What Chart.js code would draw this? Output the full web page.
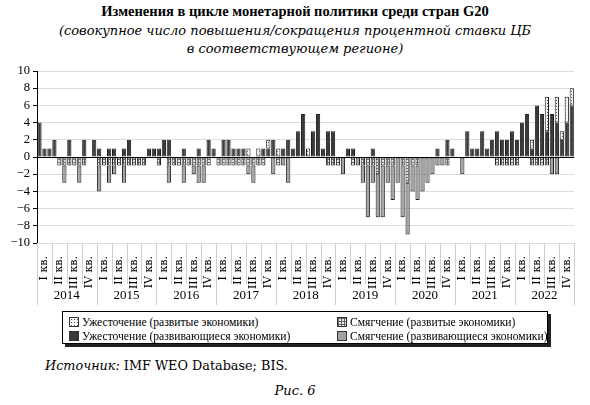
<!DOCTYPE html>
<html>
<head>
  <meta charset="UTF-8" />
  <title>Изменения в цикле монетарной политики среди стран G20</title>
  <script src="https://cdn.jsdelivr.net/npm/chart.js"></script>
  <style>
    body {
      margin: 0; width: 590px; height: 405px;
      background: #fff; color: #000;
      position: relative; overflow: hidden;
      font-family: 'DejaVu Serif', serif;
    }
    .title {
      position: absolute; left: 0; width: 590px; top: 3px;
      text-align: center;
      font: bold 14.5px 'Liberation Serif', serif;
    }
    .subtitle {
      position: absolute; left: 0; width: 590px; top: 22px;
      text-align: center; font-style: italic;
      font-size: 13px; line-height: 18px;
    }
    .chart-box {
      position: absolute; left: 0; top: 60px;
      width: 590px; height: 246px;
    }
    .legend {
      position: absolute; left: 62px; top: 311px;
      width: 486px; height: 33px;
      border: 1px solid #000;
      box-shadow: 3px 3px 0 #222;
      background: #fff;
      display: grid;
      grid-template-columns: 268px 1fr;
      font: 11.6px 'Liberation Serif', serif;
      padding: 3px 0 0 6px;
      box-sizing: border-box;
    }
    .legend div { display: flex; align-items: center; height: 14px; white-space: nowrap; }
    .legend canvas { margin-right: 3px; border: 1px solid #333; }
    .source {
      position: absolute; left: 45px; top: 358px;
      font-size: 12.8px;
    }
    .fig {
      position: absolute; left: 0; width: 590px; top: 383px;
      text-align: center; font-style: italic; font-size: 13px;
    }
  </style>
</head>
<body>
  <div class="title">Изменения в цикле монетарной политики среди стран G20</div>
  <div class="subtitle">(совокупное число повышения/сокращения процентной ставки ЦБ<br>в соответствующем регионе)</div>
  <div class="chart-box"><canvas id="policyChart"></canvas></div>
  <div class="legend" id="legend"></div>
  <div class="source"><i>Источник:</i> IMF WEO Database; BIS.</div>
  <div class="fig">Рис. 6</div>
  <script>
    const years = ['2014', '2015', '2016', '2017', '2018', '2019', '2020', '2021', '2022'];
    const quarterLabels = ['I кв.', 'II кв.', 'III кв.', 'IV кв.'];
    const yTicks = [-10, -8, -6, -4, -2, 0, 2, 4, 6, 8, 10];

    // monthly counts, one row per year (Jan..Dec)
    const tightEmerging = [
      4, 1, 1, 2, 0, 0, 2, 0, 0, 2, 0, 2,
      1, 0, 1, 1, 0, 1, 2, 0, 0, 0, 1, 1,
      1, 2, 2, 0, 0, 1, 0, 0, 1, 0, 2, 1,
      0, 2, 2, 1, 1, 1, 0, 0, 0, 1, 1, 2,
      0, 1, 2, 1, 3, 5, 0, 3, 5, 1, 3, 3,
      0, 0, 1, 1, 0, 0, 0, 1, 0, 0, 0, 0,
      0, 0, 0, 0, 0, 0, 0, 0, 1, 0, 2, 1,
      0, 0, 3, 1, 1, 3, 1, 2, 3, 2, 2, 3,
      2, 4, 5, 1, 6, 5, 3, 5, 4, 2, 4, 6
    ];
    const tightDeveloped = [
      0, 0, 0, 0, 0, 0, 0, 0, 0, 0, 0, 0,
      0, 0, 0, 0, 0, 0, 0, 0, 0, 0, 0, 0,
      0, 0, 0, 0, 0, 0, 0, 0, 0, 0, 0, 0,
      0, 0, 0, 0, 0, 0, 1, 0, 1, 0, 1, 0,
      1, 0, 0, 0, 0, 0, 1, 0, 0, 0, 0, 0,
      0, 0, 0, 0, 0, 0, 0, 0, 0, 0, 0, 0,
      0, 0, 0, 0, 0, 0, 0, 0, 0, 0, 0, 0,
      0, 0, 0, 0, 0, 0, 0, 0, 0, 0, 0, 0,
      0, 0, 0, 1, 0, 0, 4, 0, 3, 1, 3, 2
    ];
    const easeDeveloped = [
      0, 0, 0, 0, -1, -1, -1, -1, -1, -1, 0, 0,
      -1, -1, -1, -1, -1, -1, -1, -1, -1, -1, 0, 0,
      -1, 0, -1, -1, -1, -1, -1, -1, -1, -1, -1, 0,
      -1, -1, -1, -1, -1, -1, -1, -1, -1, -1, 0, 0,
      -1, 0, 0, 0, 0, 0, 0, 0, 0, 0, -1, -1,
      -1, 0, 0, -1, 0, -1, -1, -1, -2, -1, -1, -1,
      0, -1, -3, -1, -1, 0, 0, 0, 0, 0, -1, 0,
      0, 0, 0, 0, 0, 0, 0, 0, -1, -1, -1, -1,
      -1, 0, 0, -1, -1, -1, -1, 0, 0, 0, 0, 0
    ];
    const easeEmerging = [
      0, 0, 0, 0, 0, -2, 0, 0, -2, 0, 0, 0,
      -3, 0, -2, -1, 0, -2, 0, 0, 0, 0, 0, 0,
      0, 0, -2, 0, 0, -2, 0, -1, -2, -2, 0, 0,
      0, 0, 0, 0, 0, 0, -1, -2, 0, 0, 0, -2,
      0, -1, -3, 0, 0, 0, 0, 0, 0, 0, 0, 0,
      0, -2, 0, 0, -1, -2, -6, -2, -5, -6, -2, -4,
      -3, -6, -6, -3, -4, -4, -3, -2, -1, -1, 0, 0,
      0, -2, 0, 0, 0, 0, 0, 0, 0, 0, 0, 0,
      0, 0, 0, 0, 0, 0, 0, -2, -2, 0, 0, 0
    ];

    const categories = [];
    years.forEach(y => { for (let m = 1; m <= 12; m++) categories.push(y + '-' + m); });

    // fill patterns for the "developed" series
    function makePattern(draw) {
      const c = document.createElement('canvas');
      c.width = 3; c.height = 3;
      const g = c.getContext('2d');
      draw(g);
      return g.createPattern(c, 'repeat');
    }
    const dotted = makePattern(g => {
      g.fillStyle = '#f4f4f4'; g.fillRect(0, 0, 3, 3);
      g.fillStyle = '#555'; g.fillRect(1, 1, 1, 1);
    });
    const checked = makePattern(g => {
      g.fillStyle = '#e6e6e6'; g.fillRect(0, 0, 3, 3);
      g.fillStyle = '#666'; g.fillRect(0, 0, 3, 1); g.fillRect(0, 0, 1, 3);
    });

    const series = [
      { label: 'Ужесточение (развивающиеся экономики)', data: tightEmerging, bg: '#3a3a3a' },
      { label: 'Ужесточение (развитые экономики)', data: tightDeveloped, bg: dotted },
      { label: 'Смягчение (развитые экономики)', data: easeDeveloped, bg: checked },
      { label: 'Смягчение (развивающиеся экономики)', data: easeEmerging, bg: '#a2a2a2' }
    ];

    // separators and year row under the category axis
    const axisDecor = {
      id: 'axisDecor',
      afterDraw(chart) {
        const { ctx, chartArea } = chart;
        const x = chart.scales.x;
        const step = x.getPixelForValue(1) - x.getPixelForValue(0);
        const start = x.getPixelForValue(0) - step / 2;
        const top = chartArea.bottom;
        ctx.save();
        ctx.strokeStyle = '#cfcfcf';
        ctx.lineWidth = 1;
        for (let i = 0; i <= categories.length; i += 3) {
          const px = Math.round(start + i * step) + 0.5;
          ctx.beginPath();
          ctx.moveTo(px, top);
          ctx.lineTo(px, top + (i % 12 === 0 ? 62 : 41));
          ctx.stroke();
        }
        ctx.fillStyle = '#000';
        ctx.font = '13px "Liberation Serif", serif';
        ctx.textAlign = 'center';
        ctx.textBaseline = 'middle';
        years.forEach((y, k) => {
          ctx.fillText(y, start + (k * 12 + 6) * step, top + 53);
        });
        ctx.restore();
      }
    };

    const ctx = document.getElementById('policyChart').getContext('2d');
    const chart = new Chart(ctx, {
      type: 'bar',
      data: {
        labels: categories,
        datasets: series.map(s => ({
          label: s.label,
          data: s.data,
          backgroundColor: s.bg,
          borderColor: '#1e1e1e',
          borderWidth: 1,
          borderSkipped: false,
          barPercentage: 1,
          categoryPercentage: 0.85
        }))
      },
      options: {
        responsive: true,
        maintainAspectRatio: false,
        animation: false,
        layout: { padding: { top: 11, right: 7, left: 0, bottom: 0 } },
        plugins: {
          legend: { display: false },
          tooltip: { enabled: false }
        },
        scales: {
          x: {
            stacked: true,
            grid: { display: false },
            border: { display: false },
            ticks: {
              autoSkip: false,
              minRotation: 90,
              maxRotation: 90,
              padding: 5,
              color: '#000',
              font: { family: 'DejaVu Serif', size: 11 },
              callback: (v, i) => i % 3 === 1 ? quarterLabels[Math.floor(i / 3) % 4] : ''
            },
            afterFit: s => { s.height = 63; }
          },
          y: {
            stacked: true,
            min: yTicks[0],
            max: yTicks[yTicks.length - 1],
            afterBuildTicks: s => { s.ticks = yTicks.map(v => ({ value: v })); },
            ticks: {
              autoSkip: false,
              color: '#000',
              padding: 3,
              font: { family: 'Liberation Serif', size: 12.5 },
              callback: v => v < 0 ? '\u2212' + Math.abs(v) : v
            },
            grid: {
              color: c => c.tick && c.tick.value === 0 ? '#000' : '#dcdcdc',
              tickColor: '#000',
              tickLength: 4
            },
            border: { display: true, color: '#000' },
            afterFit: s => { s.width = 37; }
          }
        }
      },
      plugins: [axisDecor]
    });

    // legend box, built from the datasets
    const order = [1, 2, 0, 3];
    const legend = document.getElementById('legend');
    order.forEach(k => {
      const s = series[k];
      const item = document.createElement('div');
      const sw = document.createElement('canvas');
      sw.width = 8; sw.height = 8;
      const g = sw.getContext('2d');
      g.fillStyle = s.bg; g.fillRect(0, 0, 8, 8);
      item.appendChild(sw);
      item.appendChild(document.createTextNode(s.label));
      legend.appendChild(item);
    });
  </script>
</body>
</html>
